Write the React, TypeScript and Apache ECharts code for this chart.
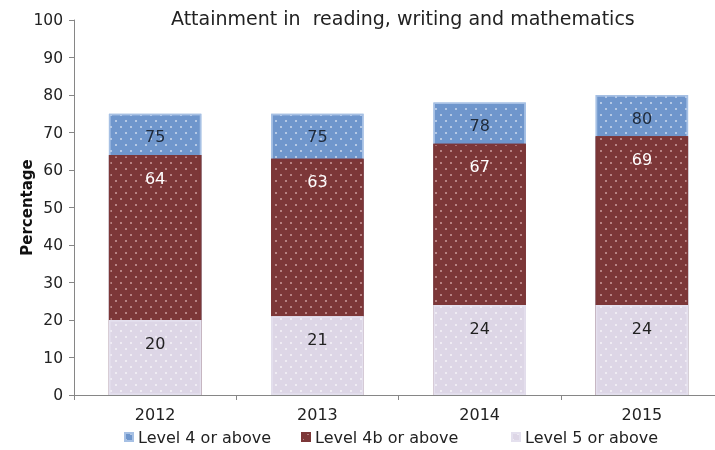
import React, { useEffect, useRef } from "react";
import * as echarts from "echarts";

const categories = ["2012", "2013", "2014", "2015"];
const level4 = [75, 75, 78, 80];
const level4b = [64, 63, 67, 69];
const level5 = [20, 21, 24, 24];
const yTicks = [0, 10, 20, 30, 40, 50, 60, 70, 80, 90, 100];
const seriesNames = ["Level 4 or above", "Level 4b or above", "Level 5 or above"];

const FONT = "DejaVu Sans, Verdana, sans-serif";

const decal = (color: string) => ({
  symbol: "rect",
  symbolSize: 0.75,
  dashArrayX: [[2, 8], [0, 5, 2, 3]],
  dashArrayY: [2, 3.4],
  rotation: 0,
  color,
});

export default function App() {
  const ref = useRef<HTMLDivElement>(null);
  useEffect(() => {
    const chart = echarts.init(ref.current!, undefined, { renderer: "svg" });
    const mk = (name: string, data: number[], color: string, border: string, labelColor: string, dot: string) => ({
      name,
      type: "bar",
      data,
      barWidth: "57%",
      barGap: "-100%",
      itemStyle: { color, borderColor: border, borderWidth: 1.5, decal: decal(dot) },
      label: {
        show: true,
        position: "insideTop",
        distance: 15,
        color: labelColor,
        fontSize: 16,
        fontFamily: FONT,
      },
    });
    const legendLefts = [119, 296, 506];
    chart.setOption({
      animation: false,
      title: {
        text: "Attainment in  reading, writing and mathematics",
        left: 166,
        top: 3,
        textStyle: { fontSize: 19, fontWeight: "normal", color: "#222", fontFamily: FONT },
      },
      legend: seriesNames.map((n, i) => ({
        top: 424,
        left: legendLefts[i],
        itemWidth: 8,
        itemHeight: 8,
        icon: "rect",
        textStyle: { fontSize: 16, color: "#222", fontFamily: FONT },
        data: [n],
      })),
      grid: { left: 74, right: -8, top: 20, bottom: 55, outerBoundsMode: "none", containLabel: false },
      xAxis: {
        type: "category",
        data: categories,
        axisLine: { lineStyle: { color: "#868686" } },
        axisTick: { show: true, alignWithLabel: false, lineStyle: { color: "#868686" } },
        axisLabel: { color: "#222", fontSize: 16, fontFamily: FONT, margin: 11 },
      },
      yAxis: {
        type: "value",
        min: yTicks[0],
        max: yTicks[yTicks.length - 1],
        interval: 10,
        name: "Percentage",
        nameLocation: "middle",
        nameGap: 40,
        nameMoveOverlap: false,
        nameTextStyle: { fontSize: 15, fontWeight: "bold", color: "#111", fontFamily: FONT },
        axisLine: { show: true, lineStyle: { color: "#868686" } },
        axisTick: { show: true, lineStyle: { color: "#868686" } },
        splitLine: { show: false },
        axisLabel: { color: "#222", fontSize: 15.5, fontFamily: FONT, margin: 11 },
      },
      series: [
        mk(seriesNames[0], level4, "#6f96cc", "#a6c0e4", "#1f2a3a", "rgba(255,255,255,0.85)"),
        mk(seriesNames[1], level4b, "#7c3738", "#7c3738", "#ffffff", "rgba(255,225,225,0.8)"),
        mk(seriesNames[2], level5, "#ddd6e6", "#e4e0ee", "#222222", "rgba(255,255,255,0.95)"),
      ],
    });
    return () => chart.dispose();
  }, []);
  return <div ref={ref} style={{ position: "fixed", left: 0, top: 0, width: 715, height: 450 }} />;
}
